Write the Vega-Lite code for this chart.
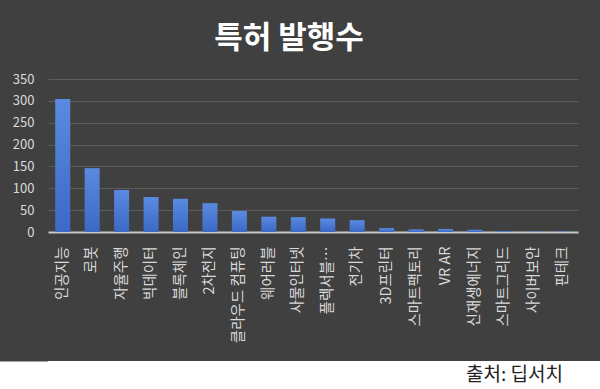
{
  "$schema": "https://vega.github.io/schema/vega-lite/v6.json",
  "background": "#404040",
  "padding": {"top": 23, "left": 0, "right": 0, "bottom": 0},
  "spacing": 18,
  "config": {"view": {"stroke": null}, "font": "Noto Sans CJK KR"},
  "vconcat": [
    {
      "width": 530,
      "height": 153,
      "title": {"text": "특허 발행수", "fontSize": 31, "fontWeight": "bold", "color": "#ffffff", "anchor": "middle", "frame": "bounds", "offset": 18},
      "data": {"values": [
        {"k": "인공지능", "v": 304},
        {"k": "로봇", "v": 146},
        {"k": "자율주행", "v": 96},
        {"k": "빅데이터", "v": 80},
        {"k": "블록체인", "v": 76},
        {"k": "2차전지", "v": 66},
        {"k": "클라우드 컴퓨팅", "v": 48},
        {"k": "웨어러블", "v": 35},
        {"k": "사물인터넷", "v": 34},
        {"k": "플렉서블…", "v": 31},
        {"k": "전기차", "v": 27},
        {"k": "3D프린터", "v": 9},
        {"k": "스마트팩토리", "v": 6},
        {"k": "VR AR", "v": 7},
        {"k": "신재생에너지", "v": 5},
        {"k": "스마트그리드", "v": 2},
        {"k": "사이버보안", "v": 1},
        {"k": "핀테크", "v": 1}
      ]},
      "mark": {"type": "bar", "fill": {"gradient": "linear", "x1": 0, "y1": 0, "x2": 0, "y2": 1, "stops": [{"offset": 0, "color": "#5a8ae0"}, {"offset": 1, "color": "#3b69c6"}]}},
      "encoding": {
        "x": {"field": "k", "type": "nominal", "sort": null,
              "scale": {"paddingInner": 0.49, "paddingOuter": 0.245},
              "axis": {"title": null, "labelAngle": -90, "labelFontSize": 14.5, "labelColor": "#d9d9d9", "domainColor": "#c8c8c8", "domainWidth": 2, "ticks": false, "labelPadding": 14, "labelLimit": 200}},
        "y": {"field": "v", "type": "quantitative",
              "scale": {"domain": [0, 350], "nice": false},
              "axis": {"title": null, "values": [0, 50, 100, 150, 200, 250, 300, 350], "labelFontSize": 13, "labelColor": "#d9d9d9", "gridColor": "#5c5c5c", "domain": false, "ticks": false, "labelPadding": 14, "minExtent": 48, "maxExtent": 48}}
      }
    },
    {
      "width": 552,
      "height": 29,
      "view": {"fill": "#ffffff"},
      "title": {"text": "출처: 딥서치", "orient": "bottom", "anchor": "end", "frame": "group", "dx": -37, "offset": -24, "fontSize": 19, "fontWeight": "normal", "color": "#222222"},
      "data": {"values": [{"t": ""}]},
      "mark": {"type": "text"},
      "encoding": {
        "text": {"field": "t"},
        "y": {"field": "t", "type": "nominal", "axis": {"title": null, "labels": false, "ticks": false, "grid": false, "domainColor": "#ffffff", "domainWidth": 98, "domainCap": "butt", "minExtent": 48, "maxExtent": 48}}
      }
    }
  ]
}
